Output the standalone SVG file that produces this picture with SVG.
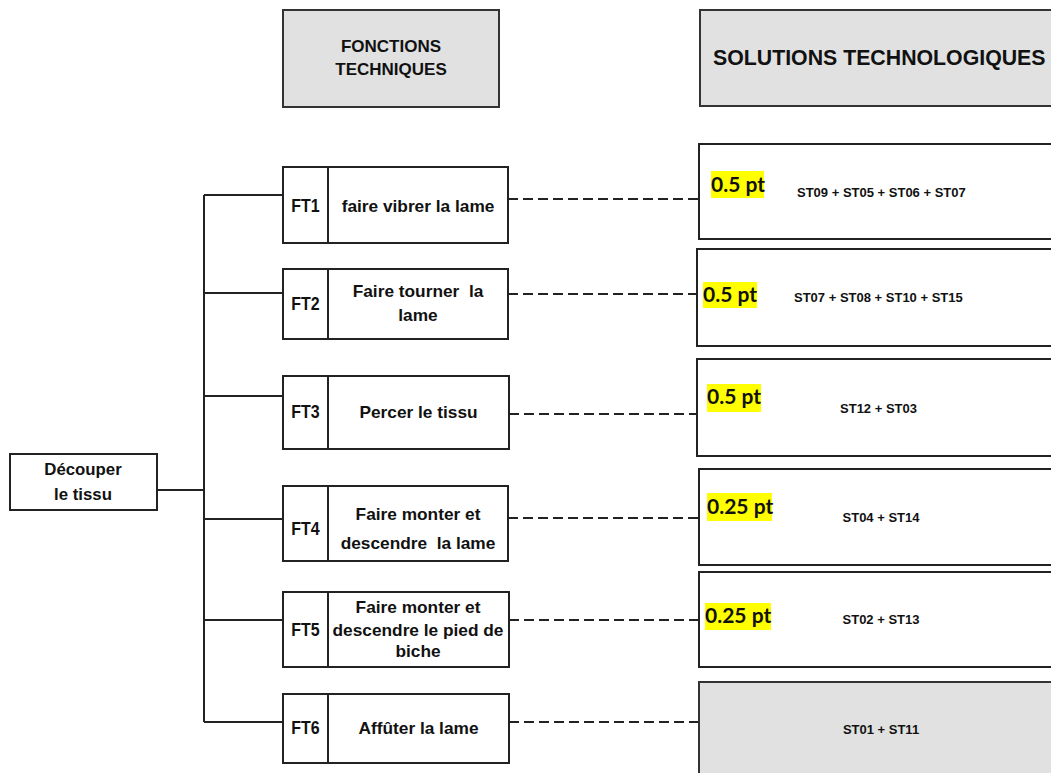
<svg xmlns="http://www.w3.org/2000/svg" width="1051" height="773" viewBox="0 0 1051 773">
<style>
.box{fill:#fff;stroke:#222;stroke-width:2}
.gray{fill:#e1e1e1;stroke:#333;stroke-width:2}
.div{stroke:#222;stroke-width:2}
.t{font-family:"Liberation Sans",Arial,sans-serif;font-weight:bold;font-size:17.3px;fill:#111;text-anchor:middle;white-space:pre}
.lb{font-family:"Liberation Sans",Arial,sans-serif;font-weight:bold;font-size:16px;fill:#111;text-anchor:middle}
.h{font-family:"Liberation Sans",Arial,sans-serif;font-weight:bold;font-size:17px;fill:#111;text-anchor:middle}
.st{font-family:"Liberation Sans",Arial,sans-serif;font-weight:bold;font-size:13px;fill:#111}
.pt{font-family:Lato,"Open Sans",sans-serif;font-weight:bold;font-size:21px;fill:#111}
.hl{fill:#ffff00}
.solid{fill:none;stroke:#222;stroke-width:2}
.dash{fill:none;stroke:#222;stroke-width:2;stroke-dasharray:10 5}
</style>
<rect width="1051" height="773" fill="#fff"/>
<g id="header-ft">
<rect class="gray" x="283" y="10" width="216" height="97"/>
<text class="h" x="391" y="52">FONCTIONS</text>
<text class="h" x="391" y="75">TECHNIQUES</text>
</g>
<g id="header-st">
<rect class="gray" x="700" y="10" width="370" height="96"/>
<text class="h" x="713" y="65" style="text-anchor:start;font-size:21.3px">SOLUTIONS TECHNOLOGIQUES</text>
</g>
<g id="connectors">
<path class="solid" d="M157 490H204M204 195V722M204 195H283M204 293H283M204 396H283M204 519H283M204 620H283M204 722H283"/>
<path class="dash" d="M508 199H698M508 294H697M509 414H697M508 518H699M509 620H699M509 722H699"/>
</g>
<g id="root">
<rect class="box" x="10" y="454" width="147" height="56"/>
<text class="t" x="83" y="475" style="font-size:16.8px">Découper</text>
<text class="t" x="83" y="500" style="font-size:16.8px">le tissu</text>
</g>
<g id="ft1">
<rect class="box" x="283" y="167" width="225" height="76"/>
<line class="div" x1="328" y1="167" x2="328" y2="243"/>
<text class="lb" transform="translate(305.5 212) scale(1 1.18)">FT1</text>
<text class="t" x="418" y="212">faire vibrer la lame</text>
</g>
<g id="ft2">
<rect class="box" x="283" y="269" width="225" height="70"/>
<line class="div" x1="328" y1="269" x2="328" y2="339"/>
<text class="lb" transform="translate(305.5 310) scale(1 1.18)">FT2</text>
<text class="t" x="418" y="297">Faire tourner  la</text>
<text class="t" x="418" y="321">lame</text>
</g>
<g id="ft3">
<rect class="box" x="283" y="376" width="226" height="73"/>
<line class="div" x1="328" y1="376" x2="328" y2="449"/>
<text class="lb" transform="translate(305.5 418) scale(1 1.18)">FT3</text>
<text class="t" x="418.5" y="418">Percer le tissu</text>
</g>
<g id="ft4">
<rect class="box" x="283" y="486" width="225" height="75"/>
<line class="div" x1="328" y1="486" x2="328" y2="561"/>
<text class="lb" transform="translate(305.5 535) scale(1 1.18)">FT4</text>
<text class="t" x="418" y="520">Faire monter et</text>
<text class="t" x="418" y="549">descendre  la lame</text>
</g>
<g id="ft5">
<rect class="box" x="283" y="592" width="226" height="75"/>
<line class="div" x1="328" y1="592" x2="328" y2="667"/>
<text class="lb" transform="translate(305.5 636) scale(1 1.18)">FT5</text>
<text class="t" x="418" y="613">Faire monter et</text>
<text class="t" x="418" y="636">descendre le pied de</text>
<text class="t" x="418" y="657">biche</text>
</g>
<g id="ft6">
<rect class="box" x="283" y="694" width="226" height="69"/>
<line class="div" x1="328" y1="694" x2="328" y2="763"/>
<text class="lb" transform="translate(305.5 734) scale(1 1.18)">FT6</text>
<text class="t" x="418.5" y="734">Affûter la lame</text>
</g>
<g id="st1">
<rect class="box" x="699" y="144" width="370" height="95"/>
<rect class="hl" x="711" y="171" width="53" height="27"/>
<text class="pt" x="711" y="192">0.5 pt</text>
<text class="st" x="797" y="197">ST09 + ST05 + ST06 + ST07</text>
</g>
<g id="st2">
<rect class="box" x="697" y="249" width="370" height="97"/>
<rect class="hl" x="703" y="282" width="54" height="26"/>
<text class="pt" x="703" y="302">0.5 pt</text>
<text class="st" x="794" y="302">ST07 + ST08 + ST10 + ST15</text>
</g>
<g id="st3">
<rect class="box" x="697" y="359" width="370" height="97"/>
<rect class="hl" x="707" y="384" width="54" height="28"/>
<text class="pt" x="707" y="404">0.5 pt</text>
<text class="st" x="878.5" y="413" text-anchor="middle">ST12 + ST03</text>
</g>
<g id="st4">
<rect class="box" x="699" y="469" width="370" height="96"/>
<rect class="hl" x="707" y="493" width="65" height="28"/>
<text class="pt" x="707" y="514">0.25 pt</text>
<text class="st" x="881" y="522" text-anchor="middle">ST04 + ST14</text>
</g>
<g id="st5">
<rect class="box" x="699" y="572" width="370" height="95"/>
<rect class="hl" x="705" y="603" width="66" height="27"/>
<text class="pt" x="705" y="623">0.25 pt</text>
<text class="st" x="881" y="624" text-anchor="middle">ST02 + ST13</text>
</g>
<g id="st6">
<rect class="gray" x="699" y="682" width="370" height="110"/>
<text class="st" x="881" y="734" text-anchor="middle">ST01 + ST11</text>
</g>
</svg>
